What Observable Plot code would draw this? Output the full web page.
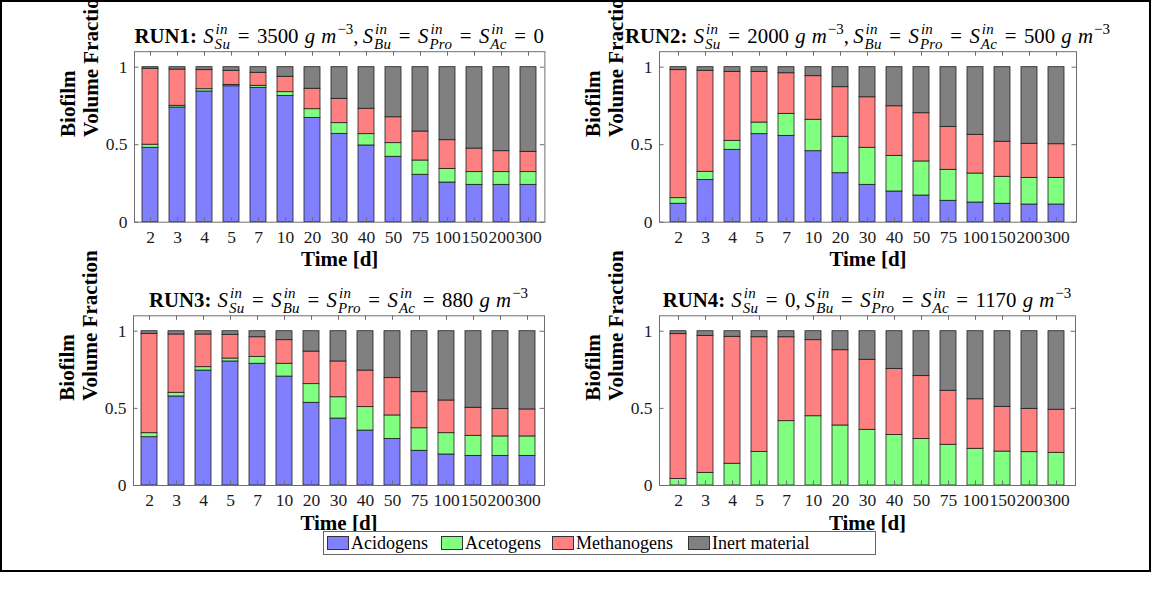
<!DOCTYPE html>
<html><head><meta charset="utf-8">
<script src="https://cdn.jsdelivr.net/npm/d3@7"></script>
<script src="https://cdn.jsdelivr.net/npm/@observablehq/plot@0.6"></script>
<style>
body{margin:0;background:#fff;}
#fig{position:relative;width:1152px;height:590px;font-family:"Liberation Serif","Times New Roman",serif;background:#fff;overflow:hidden;}
#fig svg, #fig svg text{font-family:"Liberation Serif","Times New Roman",serif !important;}
#frame{position:absolute;left:0px;top:0px;width:1147px;height:568px;border:2px solid #000;}
.panel{position:absolute;}
.title{position:absolute;width:700px;text-align:center;white-space:nowrap;font-size:20.8px;line-height:24px;color:#000;}
.title b{font-weight:bold;margin-right:0.3em;}
.title i{font-style:italic;}
.title .ss{display:inline-block;position:relative;font-size:0.72em;font-style:italic;line-height:1;vertical-align:baseline;margin-left:1px;}
.title .ss .sb{position:relative;top:0.38em;letter-spacing:0.3px;}
.title .ss .sp{position:absolute;left:1px;top:-0.62em;letter-spacing:0.3px;}
.title .su{display:inline-block;position:relative;font-size:0.72em;line-height:1;top:-0.6em;margin-left:1px;}
.title .eq{margin:0 0.36em;}
.title .gap{margin-left:0.3em;}
.title .cm{margin-right:0.2em;}
.legend{position:absolute;left:323px;top:531px;width:551px;height:22px;border:1px solid #666;font-size:18px;color:#000;background:#fff;}
.legend .item{position:absolute;top:0;height:22px;display:flex;align-items:center;white-space:nowrap;}
.legend .sw{display:inline-block;width:20px;height:12px;border:1px solid #333;margin-right:2px;}
</style></head><body><div id="fig"><div id="frame"></div></div>
<script>
const times = ["2","3","4","5","7","10","20","30","40","50","75","100","150","200","300"];
const groups = ["Acidogens","Acetogens","Methanogens","Inert material"];
const colors = ["#8080ff","#80ff80","#ff8080","#808080"];
const yTicks = [0, 0.5, 1];

// RUN1
const run1Acidogens   = [0.480,0.740,0.843,0.877,0.867,0.815,0.673,0.570,0.495,0.422,0.306,0.256,0.241,0.241,0.241];
const run1Acetogens   = [0.020,0.011,0.015,0.009,0.013,0.024,0.056,0.069,0.073,0.088,0.092,0.088,0.082,0.082,0.082];
const run1Methanogens = [0.490,0.234,0.123,0.091,0.084,0.099,0.132,0.157,0.164,0.167,0.187,0.185,0.152,0.135,0.131];
const run1Inert       = [0.010,0.015,0.019,0.023,0.036,0.062,0.139,0.204,0.268,0.323,0.415,0.471,0.525,0.542,0.546];
// RUN2
const run2Acidogens   = [0.119,0.273,0.467,0.568,0.557,0.458,0.316,0.241,0.198,0.172,0.138,0.127,0.119,0.114,0.114];
const run2Acetogens   = [0.036,0.052,0.058,0.075,0.142,0.203,0.235,0.239,0.230,0.220,0.200,0.187,0.174,0.172,0.172];
const run2Methanogens = [0.826,0.652,0.445,0.327,0.262,0.281,0.320,0.326,0.320,0.311,0.277,0.250,0.226,0.220,0.217];
const run2Inert       = [0.019,0.023,0.030,0.030,0.039,0.058,0.129,0.194,0.252,0.297,0.385,0.436,0.481,0.494,0.497];
// RUN3
const run3Acidogens   = [0.313,0.577,0.745,0.804,0.789,0.706,0.536,0.434,0.356,0.302,0.225,0.201,0.192,0.192,0.192];
const run3Acetogens   = [0.026,0.024,0.022,0.019,0.045,0.083,0.121,0.138,0.152,0.152,0.146,0.138,0.130,0.126,0.126];
const run3Methanogens = [0.644,0.378,0.212,0.154,0.127,0.153,0.211,0.232,0.237,0.242,0.234,0.212,0.182,0.177,0.175];
const run3Inert       = [0.017,0.021,0.021,0.023,0.039,0.058,0.132,0.196,0.255,0.304,0.395,0.449,0.496,0.505,0.507];
// RUN4
const run4Acidogens   = [0,0,0,0,0,0,0,0,0,0,0,0,0,0,0];
const run4Acetogens   = [0.043,0.082,0.141,0.218,0.417,0.449,0.389,0.361,0.328,0.302,0.264,0.238,0.220,0.216,0.212];
const run4Methanogens = [0.938,0.888,0.823,0.743,0.544,0.493,0.488,0.454,0.428,0.407,0.350,0.321,0.290,0.281,0.279];
const run4Inert       = [0.019,0.030,0.036,0.039,0.039,0.058,0.123,0.185,0.244,0.291,0.386,0.441,0.490,0.503,0.509];

// Title pieces
const runNames = ["RUN1:", "RUN2:", "RUN3:", "RUN4:"];
const S = sub => `<i>S</i><span class="ss"><span class="sb">${sub}</span><span class="sp">in</span></span>`;
const EQ = `<span class="eq">=</span>`;
const GM3 = `<span class="gap"></span><i>g</i><span class="gap"></span><i>m</i><span class="su">\u22123</span>`;
const CM = `<span class="cm">,</span>`;
const titleBodies = [
  `${S("Su")}${EQ}3500${GM3}${CM}${S("Bu")}${EQ}${S("Pro")}${EQ}${S("Ac")}${EQ}0`,
  `${S("Su")}${EQ}2000${GM3}${CM}${S("Bu")}${EQ}${S("Pro")}${EQ}${S("Ac")}${EQ}500${GM3}`,
  `${S("Su")}${EQ}${S("Bu")}${EQ}${S("Pro")}${EQ}${S("Ac")}${EQ}880${GM3}`,
  `${S("Su")}${EQ}0${CM}${S("Bu")}${EQ}${S("Pro")}${EQ}${S("Ac")}${EQ}1170${GM3}`
];

const FONT = '"Liberation Serif","Times New Roman",serif';
const FRAMEC = "#6e6e6e";

const panels = [
  {series: [run1Acidogens, run1Acetogens, run1Methanogens, run1Inert],
   box: {left: 0, top: 0, width: 576, height: 290}, frame: {left: 134, right: 544.4, top: 51.2, bottom: 221.7}},
  {series: [run2Acidogens, run2Acetogens, run2Methanogens, run2Inert],
   box: {left: 576, top: 0, width: 576, height: 290}, frame: {left: 659, right: 1076, top: 51.2, bottom: 221.7}},
  {series: [run3Acidogens, run3Acetogens, run3Methanogens, run3Inert],
   box: {left: 0, top: 290, width: 576, height: 240}, frame: {left: 133, right: 544, top: 315.3, bottom: 485}},
  {series: [run4Acidogens, run4Acetogens, run4Methanogens, run4Inert],
   box: {left: 576, top: 290, width: 576, height: 240}, frame: {left: 659, right: 1075, top: 315.3, bottom: 485}}
];

const fig = document.getElementById("fig");
panels.forEach((p, k) => {
  const data = [];
  times.forEach((t, i) => groups.forEach((g, j) => {
    const v = p.series[j][i];
    if (v > 0) data.push({t, g, v});
  }));
  const W = p.box.width, H = p.box.height;
  const fL = p.frame.left - p.box.left, fR = p.box.left + W - p.frame.right;
  const fT = p.frame.top - p.box.top, fB = p.box.top + H - p.frame.bottom;
  const plotW = W - fL - fR, plotH = H - fT - fB;
  const tk = 4.5;
  const svg = Plot.plot({
    width: W, height: H, marginLeft: fL, marginRight: fR, marginTop: fT, marginBottom: fB,
    style: {fontSize: "17px", background: "transparent", overflow: "visible"},
    x: {domain: times, paddingInner: 0.39, paddingOuter: 0.195, label: null},
    y: {domain: [0, 1.1], label: null},
    color: {domain: groups, range: colors},
    marks: [
      Plot.barY(data, {x: "t", y: "v", fill: "g", stroke: "#1e1e1e", strokeWidth: 0.8, order: groups}),
      Plot.frame({stroke: FRAMEC}),
      Plot.ruleX(times, {x: d => d, insetTop: plotH - tk, stroke: FRAMEC}),
      Plot.ruleX(times, {x: d => d, insetBottom: plotH - tk, stroke: FRAMEC}),
      Plot.ruleY(yTicks, {y: d => d, insetRight: plotW - tk, stroke: FRAMEC}),
      Plot.ruleY(yTicks, {y: d => d, insetLeft: plotW - tk, stroke: FRAMEC}),
      Plot.axisX({tickSize: 0, tickPadding: 8, label: null, fill: "#1a1a1a", fontSize: 17.5}),
      Plot.axisY({ticks: yTicks, tickSize: 0, tickPadding: 7, tickFormat: d => String(d), label: null, fill: "#1a1a1a", fontSize: 17.5}),
      Plot.text(["Time [d]"], {frameAnchor: "bottom", dy: 44, lineAnchor: "bottom", fontWeight: "bold", fontSize: 21, fill: "#000"}),
      Plot.text(["Biofilm\nVolume Fraction"], {frameAnchor: "left", rotate: -90, dx: -55, lineHeight: 1.1, fontWeight: "bold", fontSize: 21, fill: "#000"})
    ]
  });
  d3.select(svg).selectAll("text").style("font-family", FONT);
  svg.classList.add("panel");
  svg.style.left = p.box.left + "px";
  svg.style.top = p.box.top + "px";
  fig.appendChild(svg);

  const cx = (p.frame.left + p.frame.right) / 2;
  const t = document.createElement("div");
  t.className = "title";
  t.style.left = (cx - 350) + "px";
  t.style.top = (p.frame.top - 27) + "px";
  t.innerHTML = `<b>${runNames[k]}</b>${titleBodies[k]}`;
  fig.appendChild(t);
});

const legendX = [3, 117, 228, 364];
const legend = d3.select("#fig").append("div").attr("class", "legend");
groups.forEach((g, i) => {
  const item = legend.append("span").attr("class", "item").style("left", legendX[i] + "px");
  item.append("span").attr("class", "sw").style("background", colors[i]);
  item.append("span").text(g);
});
</script>
</body></html>
